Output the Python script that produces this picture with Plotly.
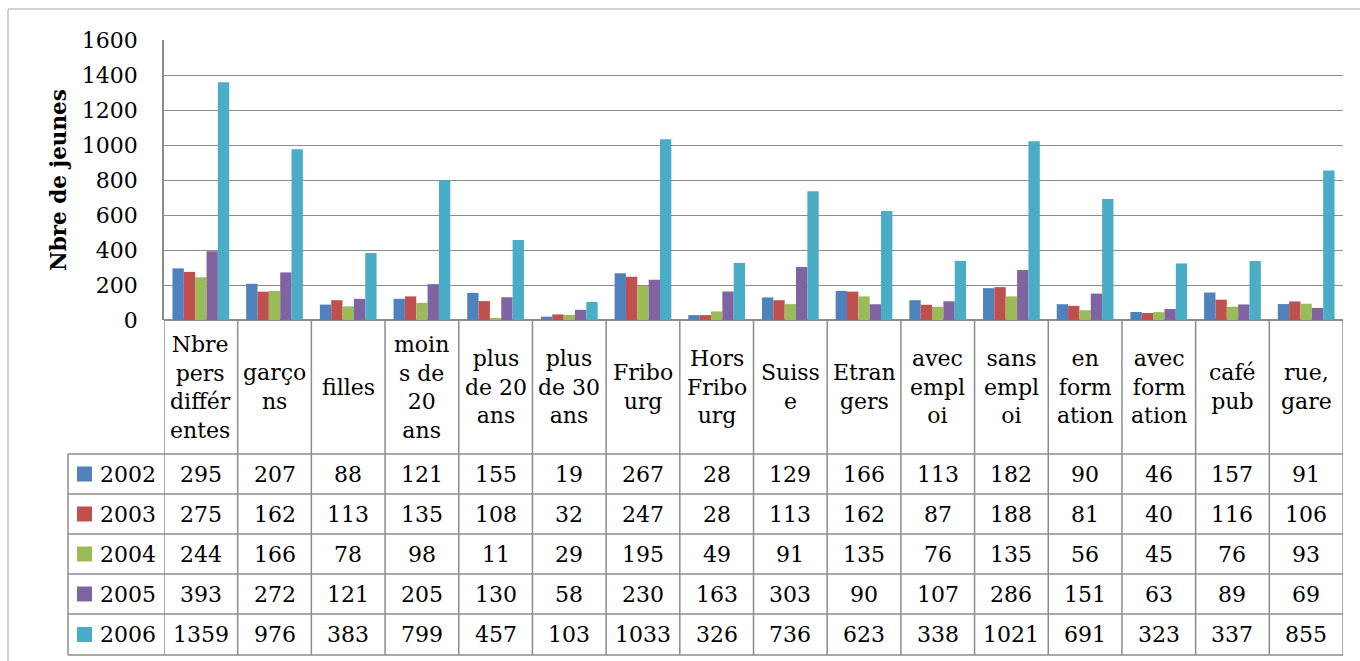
import plotly.graph_objects as go

categories = ["Nbre pers différentes", "garçons", "filles", "moins de 20 ans",
              "plus de 20 ans", "plus de 30 ans", "Fribourg", "Hors Fribourg",
              "Suisse", "Etrangers", "avec emploi", "sans emploi", "en formation",
              "avec formation", "café pub", "rue, gare"]
cat_labels = ["Nbre<br>pers<br>différ<br>entes", "garço<br>ns", "filles",
              "moin<br>s de<br>20<br>ans", "plus<br>de 20<br>ans", "plus<br>de 30<br>ans",
              "Fribo<br>urg", "Hors<br>Fribo<br>urg", "Suiss<br>e", "Etran<br>gers",
              "avec<br>empl<br>oi", "sans<br>empl<br>oi", "en<br>form<br>ation",
              "avec<br>form<br>ation", "café<br>pub", "rue,<br>gare"]
years = ["2002", "2003", "2004", "2005", "2006"]
v2002 = [295, 207, 88, 121, 155, 19, 267, 28, 129, 166, 113, 182, 90, 46, 157, 91]
v2003 = [275, 162, 113, 135, 108, 32, 247, 28, 113, 162, 87, 188, 81, 40, 116, 106]
v2004 = [244, 166, 78, 98, 11, 29, 195, 49, 91, 135, 76, 135, 56, 45, 76, 93]
v2005 = [393, 272, 121, 205, 130, 58, 230, 163, 303, 90, 107, 286, 151, 63, 89, 69]
v2006 = [1359, 976, 383, 799, 457, 103, 1033, 326, 736, 623, 338, 1021, 691, 323, 337, 855]
series = [v2002, v2003, v2004, v2005, v2006]
colors = ["#4F81BD", "#C0504D", "#9BBB59", "#8064A2", "#4BACC6"]

W, H = 1360, 661
L, R, T, B = 164, 1343, 40, 320
FONT = "DejaVu Serif"
GRID = "#8c8c8c"

def yp(py):
    return (B - py) / (B - T)

def xp(px):
    return (px - L) / (R - L)

fig = go.Figure()
for yr, vals, c in zip(years, series, colors):
    fig.add_trace(go.Bar(x=categories, y=vals, name=yr, marker_color=c,
                         marker_line_width=0, showlegend=False))

shapes = []
annotations = []
n = len(categories)
row_edges = [454, 494, 534, 574, 614, 655]

# vertical table lines
for i in range(n + 1):
    shapes.append(dict(type="line", xref="x", yref="paper", x0=i - 0.5, x1=i - 0.5,
                       y0=yp(B), y1=yp(row_edges[-1]), line=dict(color=GRID, width=1.5)))
# legend column left
shapes.append(dict(type="line", xref="paper", yref="paper", x0=xp(68), x1=xp(68),
                   y0=yp(row_edges[0]), y1=yp(row_edges[-1]), line=dict(color=GRID, width=1.5)))
# horizontal table lines
for ry in row_edges:
    shapes.append(dict(type="line", xref="paper", yref="paper", x0=xp(68), x1=1,
                       y0=yp(ry), y1=yp(ry), line=dict(color=GRID, width=1.5)))
# outer chart border
shapes.append(dict(type="line", xref="paper", yref="paper", x0=xp(8), x1=xp(W + 5),
                   y0=yp(9), y1=yp(9), line=dict(color="#a6a6a6", width=1)))
shapes.append(dict(type="line", xref="paper", yref="paper", x0=xp(8), x1=xp(8),
                   y0=yp(9), y1=yp(H + 5), line=dict(color="#a6a6a6", width=1)))

# category labels
for cat, lab in zip(categories, cat_labels):
    annotations.append(dict(x=cat, y=yp(387), xref="x", yref="paper", text=lab,
                            showarrow=False, font=dict(family=FONT, size=22, color="black"),
                            xanchor="center", yanchor="middle"))
# data rows
for r, (yr, vals, c) in enumerate(zip(years, series, colors)):
    cy = (row_edges[r] + row_edges[r + 1]) / 2
    shapes.append(dict(type="rect", xref="paper", yref="paper", x0=xp(77), x1=xp(92),
                       y0=yp(cy - 7.5), y1=yp(cy + 7.5), fillcolor=c, line=dict(width=0)))
    annotations.append(dict(x=xp(98), y=yp(cy), xref="paper", yref="paper", text=yr,
                            showarrow=False, font=dict(family=FONT, size=22, color="black"),
                            xanchor="left", yanchor="middle"))
    for cat, v in zip(categories, vals):
        annotations.append(dict(x=cat, y=yp(cy), xref="x", yref="paper", text=str(v),
                                showarrow=False, font=dict(family=FONT, size=22, color="black"),
                                xanchor="center", yanchor="middle"))

# y axis title
annotations.append(dict(x=xp(58), y=yp(180), xref="paper", yref="paper",
                        text="<b>Nbre de jeunes</b>", textangle=-90, showarrow=False,
                        font=dict(family=FONT, size=21.5, color="black"),
                        xanchor="center", yanchor="middle"))

fig.update_layout(
    width=W, height=H, autosize=False,
    margin=dict(l=L, r=W - R, t=T, b=H - B, pad=0),
    paper_bgcolor="white", plot_bgcolor="white",
    barmode="group", bargap=0.23, bargroupgap=0,
    shapes=shapes, annotations=annotations,
    font=dict(family=FONT, size=22, color="black"),
    xaxis=dict(range=[-0.5, n - 0.5], showticklabels=False, showgrid=False,
               zeroline=False, showline=False, ticks=""),
    yaxis=dict(range=[0, 1600], dtick=200, showgrid=True, gridcolor=GRID, gridwidth=1,
               zeroline=True, zerolinecolor=GRID, zerolinewidth=1.5,
               showline=True, linecolor=GRID, linewidth=1.5,
               ticks="outside", ticklen=20, tickcolor="rgba(0,0,0,0)",
               tickfont=dict(family=FONT, size=22, color="black")),
)

fig.write_html("out.html")
